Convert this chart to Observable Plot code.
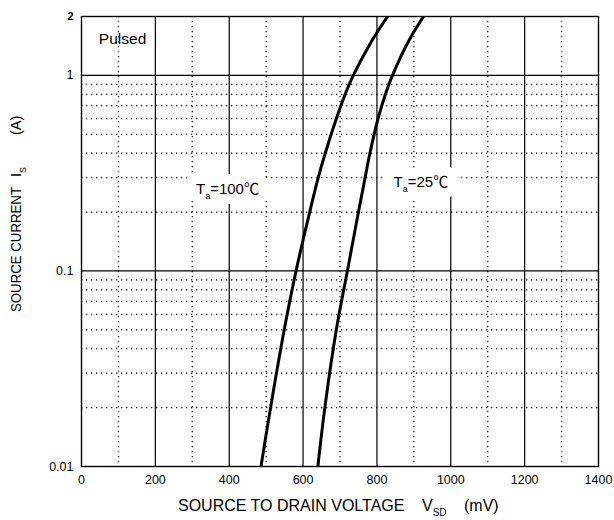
<!DOCTYPE html>
<html><head><meta charset="utf-8">
<script src="https://cdn.jsdelivr.net/npm/d3@7"></script>
<script src="https://cdn.jsdelivr.net/npm/@observablehq/plot@0.6"></script>
<style>
body{margin:0;background:#fff;}
#chart{width:614px;height:520px;}
</style>
</head><body><div id="chart"></div>
<script>
// ---- data ----
const xTicks = [0, 200, 400, 600, 800, 1000, 1200, 1400];
const yTicks = [0.01, 0.1, 1, 2];
const yTickLabels = ["0.01", "0.1", "1", "2"];
const xMajor = [200, 400, 600, 800, 1000, 1200];
const xMinor = [100, 300, 500, 700, 900, 1100, 1300];
const yMajor = [0.1, 1];
const yMinor = [0.02, 0.03, 0.04, 0.05, 0.06, 0.07, 0.08, 0.09, 0.2, 0.3, 0.4, 0.5, 0.6, 0.7, 0.8, 0.9];

const current100 = [0.01, 0.02, 0.05, 0.1, 0.2, 0.3, 0.4, 0.6, 0.8, 1, 1.5, 2];
const voltage100 = [486, 512, 549, 581, 618, 641, 660, 690, 714, 736, 786, 829];
const current25 = [0.01, 0.02, 0.05, 0.1, 0.2, 0.3, 0.4, 0.6, 0.8, 1, 1.5, 2];
const voltage25 = [640, 659, 690, 720, 750, 768, 781, 803, 823, 842, 886, 926];

const curveLabels = ["Ta=100℃", "Ta=25℃"];
const curveLabelV = [310, 845];
const curveLabelI = [0.262, 0.284];
const noteText = ["Pulsed"];
const noteV = [47];
const noteI = [1.53];

// ---- tables ----
const rows = [
  ...current100.map((c, i) => ({series: "100", i: c, v: voltage100[i]})),
  ...current25.map((c, i) => ({series: "25", i: c, v: voltage25[i]}))
];
const labelRows = curveLabels.map((t, k) => ({t, v: curveLabelV[k], i: curveLabelI[k]}));
const noteRows = noteText.map((t, k) => ({t, v: noteV[k], i: noteI[k]}));

const FONT = '"Liberation Sans", Arial, "Noto Sans CJK JP", sans-serif';
const dots = "1.3,3.7";

const plot = Plot.plot({
  width: 614,
  height: 520,
  marginLeft: 81,
  marginRight: 16,
  marginTop: 16,
  marginBottom: 54,
  style: {fontFamily: FONT, fontSize: "12.5px", color: "black", background: "white"},
  x: {domain: [0, 1400], ticks: xTicks, tickSize: 0, tickPadding: 9, label: null, tickFormat: d => String(d)},
  y: {type: "log", domain: [0.01, 2], ticks: yTicks, tickSize: 0, tickPadding: 8, label: null,
      tickFormat: d => yTickLabels[yTicks.indexOf(d)]},
  marks: [
    Plot.ruleX(xMinor, {stroke: "black", strokeWidth: 1.2, strokeDasharray: dots}),
    Plot.ruleY(yMinor, {stroke: "black", strokeWidth: 1.2, strokeDasharray: dots}),
    Plot.ruleX(xMajor, {stroke: "black", strokeWidth: 1.2}),
    Plot.ruleY(yMajor, {stroke: "black", strokeWidth: 1.2}),
    // white halo behind the curve labels
    Plot.text(labelRows, {x: "v", y: "i", text: "t", textAnchor: "start", fontSize: 15,
      fill: "white", stroke: "white", strokeWidth: 20}),
    Plot.text(labelRows, {x: "v", y: "i", text: "t", textAnchor: "start", fontSize: 15,
      fill: "black"}),
    Plot.text(noteRows, {x: "v", y: "i", text: "t", textAnchor: "start", fontSize: 15.5,
      fill: "black"}),
    Plot.line(rows, {x: "v", y: "i", z: "series", stroke: "black", strokeWidth: 3,
      curve: "catmull-rom", clip: true}),
    Plot.frame({stroke: "black", strokeWidth: 1.4})
  ]
});

document.getElementById("chart").appendChild(plot);
const svg = d3.select(plot);

// subscript "a" in the curve labels, bold "2" tick
svg.selectAll("text").each(function() {
  const t = this.textContent;
  if (t.startsWith("Ta=")) {
    const rest = t.slice(2);
    const sel = d3.select(this);
    sel.text(null);
    sel.append("tspan").text("T");
    sel.append("tspan").attr("font-size", 9).attr("dy", 5).text("a");
    sel.append("tspan").attr("dy", -5).text(rest);
  }
  if (t === "2") {
    d3.select(this).attr("font-weight", "bold").attr("font-size", 11);
  }
});

// x axis title
const xt = svg.append("text")
  .attr("font-family", FONT).attr("font-size", 16).attr("fill", "black")
  .attr("text-anchor", "start").attr("y", 511);
xt.append("tspan").attr("x", 178).text("SOURCE TO DRAIN VOLTAGE");
xt.append("tspan").attr("x", 422).text("V");
xt.append("tspan").attr("font-size", 10).attr("dy", 5).text("SD");
xt.append("tspan").attr("x", 464).attr("dy", -5).text("(mV)");

// y axis title
const yt = svg.append("text")
  .attr("font-family", FONT).attr("font-size", 14.5).attr("fill", "black")
  .attr("text-anchor", "start")
  .attr("transform", "translate(21,0) rotate(-90)");
yt.append("tspan").attr("x", -312).attr("textLength", 125).attr("lengthAdjust", "spacingAndGlyphs").text("SOURCE CURRENT");
yt.append("tspan").attr("x", -177).text("I");
yt.append("tspan").attr("font-size", 9).attr("dy", 5).text("S");
yt.append("tspan").attr("x", -135).attr("dy", -5).text("(A)");
</script>
</body></html>
